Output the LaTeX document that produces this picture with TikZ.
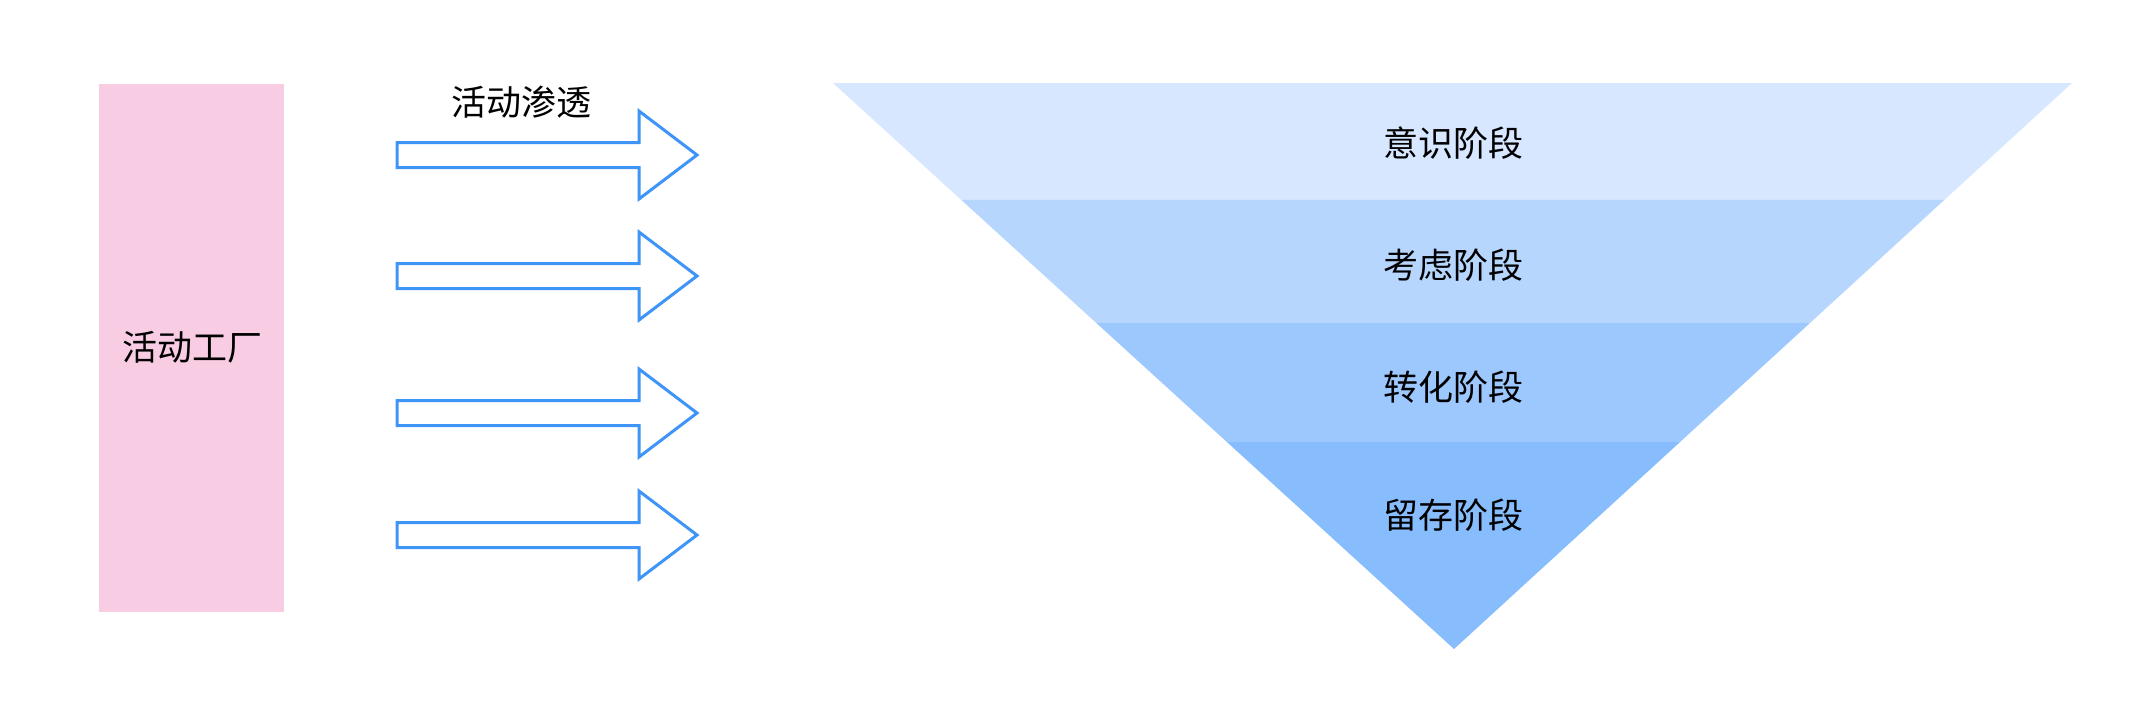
\documentclass[tikz,border=0pt]{standalone}
\usepackage{fontspec}
\setmainfont{Noto Sans CJK SC}
\usetikzlibrary{calc}
\definecolor{pinkbox}{HTML}{F8CCE2}
\definecolor{arrowblue}{HTML}{3F94F7}
\definecolor{bandA}{HTML}{D6E7FF}
\definecolor{bandB}{HTML}{B7D6FE}
\definecolor{bandC}{HTML}{9DC8FE}
\definecolor{bandD}{HTML}{87BCFD}
\tikzset{
  lbl/.style={inner sep=0pt, font=\fontsize{35}{40}\selectfont, text=black},
  blockarrow/.style={draw=arrowblue, line width=3pt, fill=white, line join=miter},
}
\newcommand{\blockarr}[1]{%
  \draw[blockarrow] (397,#1-12.5) -- (639,#1-12.5) -- (639,#1-44) -- (697,#1) -- (639,#1+44) -- (639,#1+12.5) -- (397,#1+12.5) -- cycle;}
\begin{document}
\begin{tikzpicture}[x=1pt,y=-1pt]
\useasboundingbox (0,0) rectangle (2138,724);
% left box
\fill[pinkbox] (99,84) rectangle (284,612);
\node[lbl] (factory) at (192,347) {活动工厂};
% arrows
\blockarr{155}
\blockarr{276}
\blockarr{413}
\blockarr{535}
\node[lbl] (infil) at (521,102) {活动渗透};
% funnel
\coordinate (TL) at (833,83);
\coordinate (TR) at (2072,83);
\coordinate (AP) at (1454,649);
\coordinate (L1) at ($(TL)!0.2067!(AP)$);
\coordinate (R1) at ($(TR)!0.2067!(AP)$);
\coordinate (L2) at ($(TL)!0.4240!(AP)$);
\coordinate (R2) at ($(TR)!0.4240!(AP)$);
\coordinate (L3) at ($(TL)!0.6343!(AP)$);
\coordinate (R3) at ($(TR)!0.6343!(AP)$);
\fill[bandA] (TL) -- (TR) -- (R1) -- (L1) -- cycle;
\fill[bandB] (L1) -- (R1) -- (R2) -- (L2) -- cycle;
\fill[bandC] (L2) -- (R2) -- (R3) -- (L3) -- cycle;
\fill[bandD] (L3) -- (R3) -- (AP) -- cycle;
\node[lbl] (s1) at (1453,143) {意识阶段};
\node[lbl] (s2) at (1453,265) {考虑阶段};
\node[lbl] (s3) at (1453,387) {转化阶段};
\node[lbl] (s4) at (1453,515) {留存阶段};
\end{tikzpicture}
\end{document}
